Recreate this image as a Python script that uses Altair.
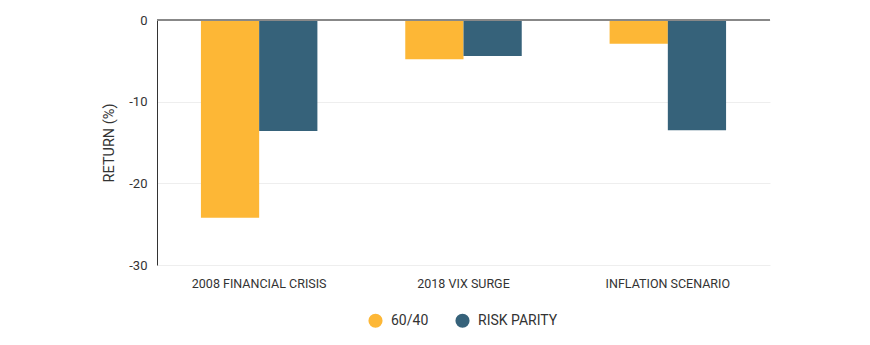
import altair as alt
import pandas as pd

scenarios = ["2008 FINANCIAL CRISIS", "2018 VIX SURGE", "INFLATION SCENARIO"]
portfolios = ["60/40", "RISK PARITY"]
values_6040 = [-24.2, -4.8, -2.9]
values_rp = [-13.6, -4.4, -13.5]
colors = ["#FDB736", "#36627A"]

rows = []
for s, a, b in zip(scenarios, values_6040, values_rp):
    rows.append({"scenario": s, "portfolio": portfolios[0], "ret": a})
    rows.append({"scenario": s, "portfolio": portfolios[1], "ret": b})
df = pd.DataFrame(rows)

FONT = "Roboto"

bars = alt.Chart(df).mark_bar().encode(
    x=alt.X("scenario:N", sort=scenarios, title=None,
            scale=alt.Scale(paddingInner=0.43, paddingOuter=0.215),
            axis=alt.Axis(labelAngle=0, domain=False, ticks=False, labelPadding=12,
                          labelFont=FONT, labelFontSize=12.5, labelColor="#333333")),
    xOffset=alt.XOffset("portfolio:N", sort=portfolios, scale=alt.Scale(paddingInner=0, paddingOuter=0)),
    y=alt.Y("ret:Q", title="RETURN (%)",
            scale=alt.Scale(domain=[-30, 0], nice=False),
            axis=alt.Axis(values=[0, -10, -20, -30], ticks=False, labelPadding=10,
                          labelExpr="toString(datum.value)",
                          domainColor="#333333", domainWidth=1,
                          gridColor="#eeeeee", labelFont=FONT, labelFontSize=13,
                          labelColor="#333333", titleFont=FONT, titleFontSize=14.5,
                          titleFontWeight="normal", titleColor="#333333", titlePadding=12)),
    color=alt.Color("portfolio:N", sort=portfolios,
                    scale=alt.Scale(domain=portfolios, range=colors),
                    legend=alt.Legend(title=None, orient="none", direction="horizontal",
                                      legendX=211, legendY=293, symbolType="circle",
                                      symbolSize=200, symbolStrokeWidth=0,
                                      labelFont=FONT, labelFontSize=14, labelColor="#333333",
                                      columnPadding=26, labelOffset=8)),
)

zero = alt.Chart(pd.DataFrame({"y": [0]})).mark_rule(color="#888888", strokeWidth=2).encode(y="y:Q")

chart = alt.layer(bars, zero).properties(
    width=613, height=245,
    padding={"left": 157, "top": 20, "right": 100, "bottom": 80},
    autosize=alt.AutoSizeParams(type="none"),
    background="white",
).configure_view(stroke=None)

chart.save("out.html", embed_options={"renderer": "svg", "actions": False})
